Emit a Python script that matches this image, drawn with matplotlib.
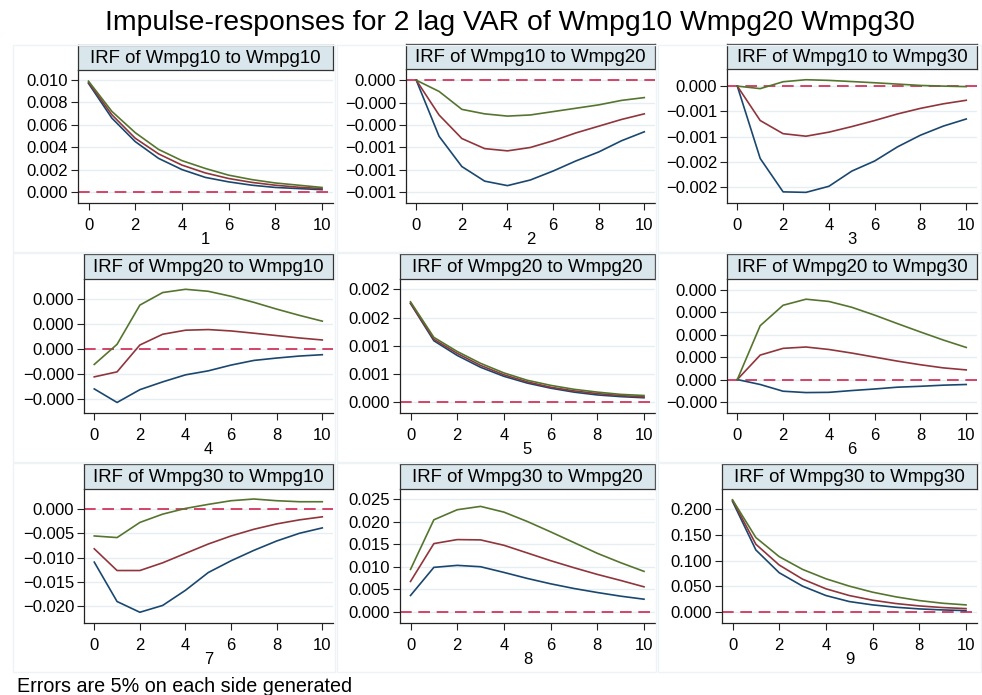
import matplotlib
matplotlib.use('Agg')
import matplotlib.pyplot as plt
from matplotlib.patches import Rectangle
from matplotlib.ticker import StrMethodFormatter

plt.rcParams['font.family'] = ['Liberation Sans', 'DejaVu Sans']

### DATA
steps = [0, 1, 2, 3, 4, 5, 6, 7, 8, 9, 10]

p1_lo = [0.0097, 0.0066, 0.0045, 0.0030, 0.0020, 0.0013, 0.0009, 0.0006, 0.0004, 0.0003, 0.0002]
p1_irf = [0.0098, 0.0069, 0.0048, 0.0034, 0.0024, 0.0017, 0.0012, 0.00085, 0.0006, 0.00042, 0.0003]
p1_hi = [0.0099, 0.0072, 0.0053, 0.0038, 0.0028, 0.0021, 0.0015, 0.0011, 0.0008, 0.0006, 0.0004]

p2_lo = [0, -0.0005, -0.00077, -0.0009, -0.00094, -0.00089, -0.00081, -0.00072, -0.00064, -0.00054, -0.00046]
p2_irf = [0, -0.00031, -0.00052, -0.00061, -0.00063, -0.0006, -0.00054, -0.00047, -0.00041, -0.00035, -0.0003]
p2_hi = [0, -0.0001, -0.00026, -0.0003, -0.00032, -0.00031, -0.00028, -0.00025, -0.00022, -0.00018, -0.000155]

p3_lo = [0, -0.00143, -0.00209, -0.0021, -0.00198, -0.00168, -0.00148, -0.0012, -0.00097, -0.00079, -0.00065]
p3_irf = [0, -0.00068, -0.00094, -0.00099, -0.00091, -0.0008, -0.00068, -0.00055, -0.00044, -0.00035, -0.00028]
p3_hi = [0, -0.00005, 0.000086, 0.000126, 0.000113, 0.00009, 0.000066, 0.00004, 0.000013, 0.0, -0.00001]

p4_lo = [-0.000159, -0.000213, -0.000162, -0.000131, -0.000103, -0.000087, -0.000064, -0.0000455, -0.000036, -0.000028, -0.0000227]
p4_irf = [-0.000111, -0.000091, 0.000016, 0.0000588, 0.0000749, 0.0000775, 0.000072, 0.000063, 0.0000535, 0.000044, 0.000036]
p4_hi = [-0.0000615, 0.0000187, 0.000175, 0.000225, 0.000238, 0.00023, 0.00021, 0.000186, 0.000159, 0.000134, 0.000111]

p5_lo = [0.00175, 0.00109, 0.00083, 0.00062, 0.00046, 0.00034, 0.00025, 0.00018, 0.00013, 0.0001, 0.00008]
p5_irf = [0.001757, 0.001116, 0.000866, 0.000653, 0.000487, 0.000362, 0.000267, 0.000202, 0.000154, 0.000119, 0.000095]
p5_hi = [0.00178, 0.00115, 0.0009, 0.00069, 0.00052, 0.00039, 0.0003, 0.00023, 0.00018, 0.00014, 0.00012]

p6_lo = [0, -0.000022, -0.000052, -0.000058, -0.000057, -0.000049, -0.000042, -0.000034, -0.00003, -0.000025, -0.000022]
p6_irf = [0, 0.000109, 0.000139, 0.000145, 0.000134, 0.000118, 0.0001, 0.000082, 0.000066, 0.000052, 0.000043]
p6_hi = [0, 0.00024, 0.000331, 0.000358, 0.000348, 0.000322, 0.000287, 0.000249, 0.000212, 0.000176, 0.000143]

p7_lo = [-0.01093, -0.019, -0.0212, -0.0198, -0.0167, -0.01306, -0.01065, -0.00852, -0.0066, -0.00502, -0.00392]
p7_irf = [-0.0082, -0.01265, -0.01265, -0.01107, -0.00914, -0.00722, -0.00557, -0.0042, -0.0031, -0.00227, -0.00165]
p7_hi = [-0.00557, -0.0059, -0.0028, -0.0011, 0.00007, 0.0009, 0.00165, 0.002, 0.00165, 0.00144, 0.00144]

p8_lo = [0.00364, 0.00987, 0.01031, 0.01001, 0.00875, 0.00742, 0.00623, 0.00519, 0.0043, 0.00349, 0.00282]
p8_irf = [0.00675, 0.01513, 0.01602, 0.01595, 0.01476, 0.01306, 0.01135, 0.00979, 0.00831, 0.00697, 0.00556]
p8_hi = [0.00942, 0.0204, 0.02263, 0.02337, 0.0221, 0.02003, 0.01773, 0.01536, 0.01298, 0.0109, 0.00898]

p9_lo = [0.215, 0.1205, 0.0762, 0.0502, 0.0319, 0.0202, 0.0137, 0.0091, 0.0059, 0.0039, 0.0026]
p9_irf = [0.217, 0.1316, 0.0912, 0.0638, 0.045, 0.0319, 0.0228, 0.0163, 0.0117, 0.0085, 0.0065]
p9_hi = [0.218, 0.1446, 0.1075, 0.0827, 0.0645, 0.0502, 0.0384, 0.0293, 0.0221, 0.0169, 0.0137]

titles = ['IRF of Wmpg10 to Wmpg10', 'IRF of Wmpg10 to Wmpg20', 'IRF of Wmpg10 to Wmpg30',
          'IRF of Wmpg20 to Wmpg10', 'IRF of Wmpg20 to Wmpg20', 'IRF of Wmpg20 to Wmpg30',
          'IRF of Wmpg30 to Wmpg10', 'IRF of Wmpg30 to Wmpg20', 'IRF of Wmpg30 to Wmpg30']
xlabels = ['1', '2', '3', '4', '5', '6', '7', '8', '9']

yticks = [[0.0, 0.002, 0.004, 0.006, 0.008, 0.010],
          [0.0, -0.0002, -0.0004, -0.0006, -0.0008, -0.001],
          [0.0, -0.0005, -0.001, -0.0015, -0.002],
          [-0.0002, -0.0001, 0.0, 0.0001, 0.0002],
          [0.0, 0.0005, 0.001, 0.0015, 0.002],
          [-0.0001, 0.0, 0.0001, 0.0002, 0.0003, 0.0004],
          [-0.020, -0.015, -0.010, -0.005, 0.0],
          [0.0, 0.005, 0.010, 0.015, 0.020, 0.025],
          [0.0, 0.05, 0.10, 0.15, 0.20]]

lows = [p1_lo, p2_lo, p3_lo, p4_lo, p5_lo, p6_lo, p7_lo, p8_lo, p9_lo]
irfs = [p1_irf, p2_irf, p3_irf, p4_irf, p5_irf, p6_irf, p7_irf, p8_irf, p9_irf]
highs = [p1_hi, p2_hi, p3_hi, p4_hi, p5_hi, p6_hi, p7_hi, p8_hi, p9_hi]

### LAYOUT (pixels: left, right, top, bottom of each plot region)
W, H = 982, 695
boxes = [(78, 333, 70, 203), (406, 655, 69, 203), (727, 977, 69, 203),
         (84, 333, 279, 413), (400, 655, 279, 413), (727, 977, 279, 413),
         (84, 333, 489, 623), (400, 655, 489, 623), (722, 977, 489, 623)]
ylims = [(-0.00099, 0.0109), (-0.001095, 0.0001), (-0.00231, 0.000338),
         (-0.000255, 0.000279), (-0.00019, 0.002184), (-0.000149, 0.000448),
         (-0.0234, 0.00405), (-0.00245, 0.02722), (-0.0215, 0.239)]
cells = [(13, 335, 45, 252), (337, 656, 45, 252), (658, 981, 45, 252),
         (13, 335, 253, 462), (337, 656, 253, 462), (658, 981, 253, 462),
         (13, 335, 463, 672), (337, 656, 463, 672), (658, 981, 463, 672)]

navy = '#1a476f'
maroon = '#90353b'
green = '#55752f'
refred = '#d0264f'
gridc = '#e6eef1'

fig = plt.figure(figsize=(W / 100, H / 100), dpi=100)

def fx(px):
    return px / W

def fy(py):
    return 1 - py / H

for n in range(9):
    # faint cell outline
    c = cells[n]
    fig.patches.append(Rectangle((fx(c[0]), fy(c[3])), fx(c[1] - c[0]), (c[3] - c[2]) / H,
                                 transform=fig.transFigure, facecolor='none',
                                 edgecolor='#eef3f5', lw=1.0, zorder=0))

    l, r, t, b = boxes[n]
    ax = fig.add_axes([fx(l), fy(b), fx(r - l), (b - t) / H])
    ax.plot(steps, lows[n], color=navy, lw=1.2, zorder=3)
    ax.plot(steps, irfs[n], color=maroon, lw=1.2, zorder=3)
    ax.plot(steps, highs[n], color=green, lw=1.2, zorder=3)
    ax.axhline(0, color=refred, lw=1.2, ls=(0, (7, 4)), zorder=2)

    ax.set_xlim(-0.45, 10.47)
    ax.set_ylim(*ylims[n])
    ax.set_xticks([0, 2, 4, 6, 8, 10])
    ax.set_yticks(yticks[n])
    ax.yaxis.set_major_formatter(StrMethodFormatter('{x:.3f}'))
    ax.grid(axis='y', color=gridc, lw=1.0, zorder=0)
    ax.set_axisbelow(True)
    for s in ['top', 'right']:
        ax.spines[s].set_visible(False)
    for s in ['left', 'bottom']:
        ax.spines[s].set_color('#222222')
        ax.spines[s].set_linewidth(0.9)
    ax.tick_params(direction='out', length=5, width=0.8, color='#222222',
                   labelsize=12, pad=2)
    ax.tick_params(axis='x', pad=6)
    ax.set_xlabel(xlabels[n], fontsize=12, labelpad=-1)

    # title strip above plot region
    tax = fig.add_axes([fx(l), fy(t), fx(r - l), 25 / H])
    tax.set_facecolor('#d9e6eb')
    tax.set_xticks([])
    tax.set_yticks([])
    for s in tax.spines.values():
        s.set_color('#333333')
        s.set_linewidth(0.9)
    tax.text(0.5, 0.45, titles[n], ha='center', va='center', fontsize=13.4, transform=tax.transAxes)

fig.text(fx(510), fy(23), 'Impulse-responses for 2 lag VAR of Wmpg10 Wmpg20 Wmpg30',
         ha='center', va='center', fontsize=20.4)
fig.text(fx(17), fy(687), 'Errors are 5% on each side generated',
         ha='left', va='center', fontsize=14.2)

fig.savefig('out.png', dpi=100, facecolor='white')
